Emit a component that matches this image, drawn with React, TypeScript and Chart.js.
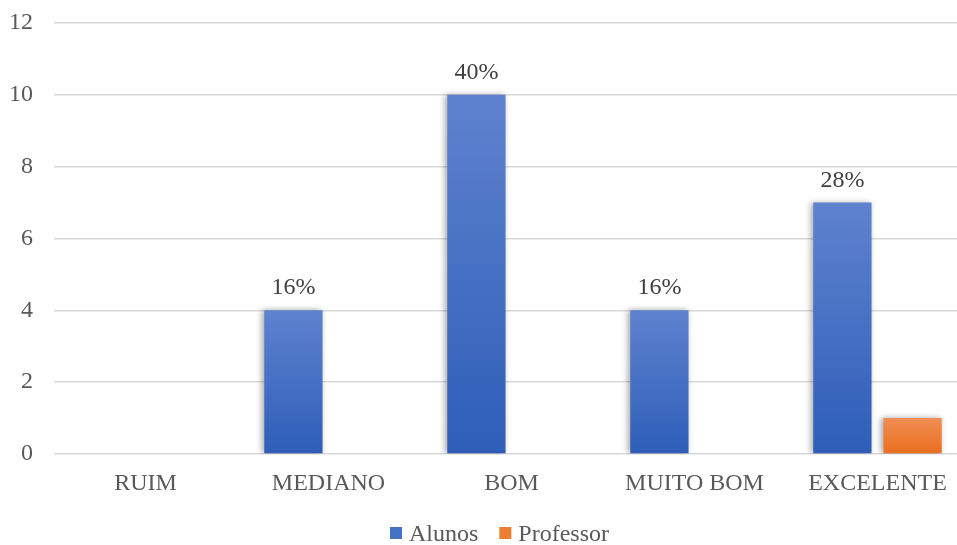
import React, { useEffect, useRef } from "react";
import { Chart, registerables } from "chart.js";

Chart.register(...registerables);

const categories = ["RUIM", "MEDIANO", "BOM", "MUITO BOM", "EXCELENTE"];
const alunos = [0, 4, 10, 4, 7];
const professor = [0, 0, 0, 0, 1];
const alunosLabels = ["", "16%", "40%", "16%", "28%"];
const yTicks = [0, 2, 4, 6, 8, 10, 12];
const seriesNames = ["Alunos", "Professor"];
const seriesColors = ["#4472C4", "#ED7D31"];

const FONT = "'Liberation Serif', 'Times New Roman', serif";
const FS = 24;

function barGradient(ctx: any, top: string, bottom: string, fallback: string) {
  const chart = ctx.chart;
  const area = chart.chartArea;
  const y = chart.scales && chart.scales.y;
  if (!area || !y || ctx.raw == null) return fallback;
  const yTop = y.getPixelForValue(ctx.raw);
  const yBot = y.getPixelForValue(0);
  if (!isFinite(yTop) || Math.abs(yBot - yTop) < 1) return fallback;
  const g = chart.ctx.createLinearGradient(0, yTop, 0, yBot);
  g.addColorStop(0, top);
  g.addColorStop(1, bottom);
  return g;
}

const shadowPlugin = {
  id: "barShadow",
  beforeDatasetsDraw(chart: any) {
    const c = chart.ctx;
    c.save();
    c.shadowColor = "rgba(0,0,0,0.35)";
    c.shadowBlur = 6;
    c.shadowOffsetX = -2;
    c.shadowOffsetY = 0;
  },
  afterDatasetsDraw(chart: any) {
    chart.ctx.restore();
  },
};

const labelPlugin = {
  id: "barLabels",
  afterDraw(chart: any) {
    const c = chart.ctx;
    const meta = chart.getDatasetMeta(0);
    c.save();
    c.font = `${FS}px ${FONT}`;
    c.fillStyle = "#404040";
    c.textAlign = "center";
    c.textBaseline = "alphabetic";
    meta.data.forEach((bar: any, i: number) => {
      const t = alunosLabels[i];
      if (!t) return;
      c.fillText(t, bar.x, bar.y - 16);
    });
    c.restore();
  },
};

const legendPlugin = {
  id: "customLegend",
  afterDraw(chart: any) {
    const c = chart.ctx;
    c.save();
    c.font = `${FS}px ${FONT}`;
    c.textBaseline = "alphabetic";
    c.textAlign = "left";
    const box = 12;
    const gapBox = 7;
    const gapItem = 21;
    const widths = seriesNames.map((n) => c.measureText(n).width);
    const total =
      widths.reduce((a, w) => a + box + gapBox + w, 0) + gapItem * (seriesNames.length - 1);
    let x = 499.5 - total / 2;
    const baseline = chart.height - 4;
    seriesNames.forEach((n, i) => {
      c.fillStyle = seriesColors[i];
      c.fillRect(x, baseline - 14, box, box);
      x += box + gapBox;
      c.fillStyle = "#595959";
      c.fillText(n, x, baseline);
      x += widths[i] + gapItem;
    });
    c.restore();
  },
};

export default function App() {
  const ref = useRef<HTMLCanvasElement | null>(null);
  useEffect(() => {
    if (!ref.current) return;
    const chart = new Chart(ref.current, {
      type: "bar",
      data: {
        labels: categories,
        datasets: [
          {
            label: seriesNames[0],
            data: alunos,
            backgroundColor: (ctx: any) =>
              barGradient(ctx, "rgb(94,130,206)", "rgb(46,94,184)", seriesColors[0]),
            borderWidth: 0,
            categoryPercentage: 0.767,
            barPercentage: 0.83,
          },
          {
            label: seriesNames[1],
            data: professor,
            backgroundColor: (ctx: any) =>
              barGradient(ctx, "rgb(240,142,84)", "rgb(234,110,30)", seriesColors[1]),
            borderWidth: 0,
            categoryPercentage: 0.767,
            barPercentage: 0.83,
          },
        ],
      },
      options: {
        animation: false,
        responsive: true,
        maintainAspectRatio: false,
        layout: { padding: { left: 9, right: 0, top: 23, bottom: 51 } },
        plugins: {
          legend: { display: false },
          tooltip: { enabled: false },
        },
        scales: {
          x: {
            grid: { display: false },
            border: { display: false },
            afterFit: (axis: any) => {
              axis.height = 40;
              axis.paddingLeft = 0;
              axis.paddingRight = 0;
            },
            ticks: {
              font: { family: FONT, size: FS },
              color: "#595959",
              padding: 7,
              maxRotation: 0,
            },
          },
          y: {
            min: 0,
            max: 12,
            afterBuildTicks: (axis: any) => {
              axis.ticks = yTicks.map((v) => ({ value: v }));
            },
            afterFit: (axis: any) => {
              axis.width = 45;
              axis.paddingTop = 0;
              axis.paddingBottom = 0;
            },
            grid: { color: "#d9d9d9", lineWidth: 1.5, drawTicks: false },
            border: { display: false },
            ticks: {
              font: { family: FONT, size: FS },
              color: "#595959",
              padding: 21,
            },
          },
        },
      },
      plugins: [shadowPlugin, labelPlugin, legendPlugin],
    });
    return () => chart.destroy();
  }, []);
  return (
    <div style={{ position: "fixed", left: 0, top: 0, width: 957, height: 545, overflow: "hidden", background: "#fff" }}>
      <div style={{ position: "relative", width: 969, height: 545 }}>
        <canvas ref={ref} />
      </div>
    </div>
  );
}
